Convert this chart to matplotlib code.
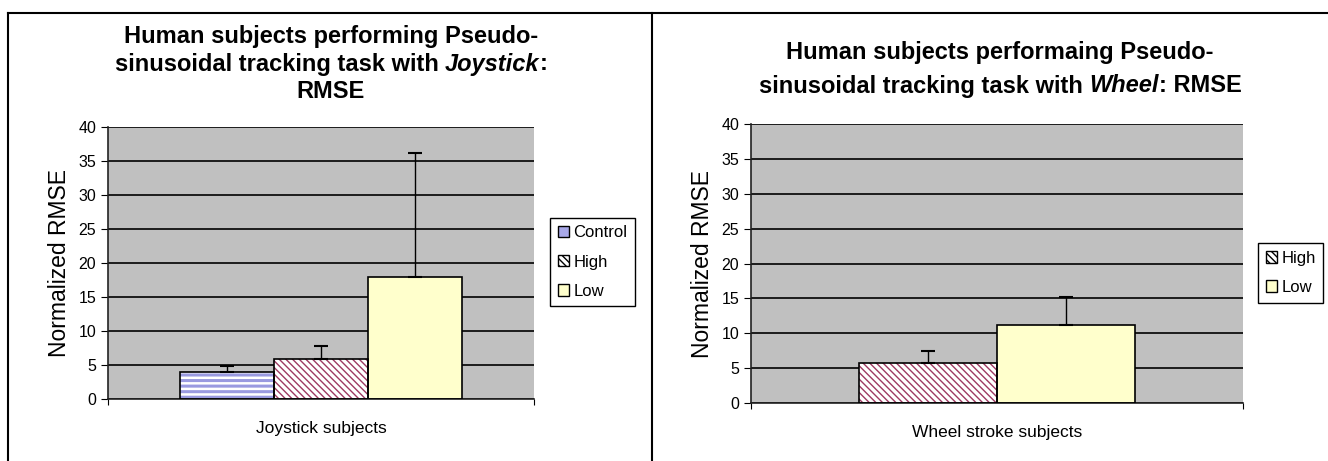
import numpy as np
import matplotlib
matplotlib.use("Agg")
import matplotlib.pyplot as plt
from matplotlib.patches import Patch
from matplotlib.lines import Line2D

plt.rcParams['font.family'] = ['Liberation Sans', 'DejaVu Sans']

# data
joy_series = ['Control', 'High', 'Low']
joy_values = [4.0, 5.9, 18.0]
joy_errors = [0.8, 1.9, 18.2]
joy_category = 'Joystick subjects'

wheel_series = ['High', 'Low']
wheel_values = [5.8, 11.2]
wheel_errors = [1.7, 4.0]
wheel_category = 'Wheel stroke subjects'

yticks = [0, 5, 10, 15, 20, 25, 30, 35, 40]

styles = {
    'Control': dict(face='white', hatch='---', hcol='#9a9ae0', hlw=2.2, legface='#a8a8e8'),
    'High': dict(face='white', hatch='\\\\\\\\\\', hcol='#9e3a62', hlw=1.0, legface='white'),
    'Low': dict(face='#ffffcc', hatch=None, hcol='#ffffcc', hlw=1.0, legface='#ffffcc'),
}

W, H = 1328, 461
fig = plt.figure(figsize=(W / 100, H / 100), dpi=100)


def px_axes(x0, y0, x1, y1):
    return fig.add_axes([x0 / W, 1 - y1 / H, (x1 - x0) / W, (y1 - y0) / H])


def draw_panel(ax, names, values, errors, category, group_width):
    n = len(names)
    bw = group_width / n
    xs = -group_width / 2 + bw * (np.arange(n) + 0.5)
    ax.set_facecolor('#c0c0c0')
    ax.set_axisbelow(True)
    ax.yaxis.grid(True, color='black', linewidth=1.2)
    for x, name, v, e in zip(xs, names, values, errors):
        st = styles[name]
        with plt.rc_context({'hatch.linewidth': st['hlw']}):
            ax.bar(x, v, bw, color=st['face'], hatch=st['hatch'], edgecolor=st['hcol'],
                   linewidth=0, zorder=2)
        ax.bar(x, v, bw, fill=False, edgecolor='black', linewidth=1.2, zorder=3)
        ax.errorbar(x, v, yerr=[[0], [e]], fmt='none', ecolor='black', elinewidth=1,
                    capsize=5, capthick=1.5, zorder=4)
    ax.set_xlim(-0.5, 0.5)
    ax.set_ylim(0, 40)
    ax.set_yticks(yticks)
    ax.set_xticks([-0.5, 0.5])
    ax.set_xticklabels([])
    ax.tick_params(axis='x', length=4, direction='out')
    ax.tick_params(axis='y', length=5, direction='out', labelsize=11.5)
    for s in ['top', 'right']:
        ax.spines[s].set_visible(False)
    for s in ['left', 'bottom']:
        ax.spines[s].set_color('#222222')
        ax.spines[s].set_linewidth(1.2)
    ax.set_xlabel(category, fontsize=12.5, labelpad=8)
    ax.set_ylabel('Normalized RMSE', fontsize=16.5, labelpad=5)


def legend_handles(names):
    hs = []
    for name in names:
        st = styles[name]
        hatch = st['hatch'] if name == 'High' else None
        hs.append(Patch(facecolor=st['legface'], edgecolor='black', hatch=hatch,
                        linewidth=1, label=name))
    return hs


def rich_line(parts, xc, yc, size=17):
    r = fig.canvas.get_renderer()
    texts = []
    total = 0
    for s, style in parts:
        t = fig.text(0, 0, s, fontsize=size, fontweight='bold', fontstyle=style,
                     va='center', ha='left')
        w = t.get_window_extent(renderer=r).width
        texts.append((t, w))
        total += w
    x = xc - total / 2
    for t, w in texts:
        t.set_position((x / W, 1 - yc / H))
        x += w


# left panel
ax1 = px_axes(108, 127, 534, 399)
draw_panel(ax1, joy_series, joy_values, joy_errors, joy_category, 0.66)
fig.legend(handles=legend_handles(joy_series), loc='center left',
           bbox_to_anchor=(550 / W, 1 - 262 / H), fontsize=12, frameon=True,
           fancybox=False, edgecolor='black', handlelength=0.7, handleheight=0.7,
           handletextpad=0.25, labelspacing=0.85, borderpad=0.45, borderaxespad=0,
           framealpha=1)

rich_line([('Human subjects performing Pseudo-', 'normal')], 331, 37)
rich_line([('sinusoidal tracking task with ', 'normal'), ('Joystick', 'italic'),
           (':', 'normal')], 331, 64)
rich_line([('RMSE', 'normal')], 331, 91)

# right panel
ax2 = px_axes(751, 124, 1243, 403)
draw_panel(ax2, wheel_series, wheel_values, wheel_errors, wheel_category, 0.56)
fig.legend(handles=legend_handles(wheel_series), loc='center left',
           bbox_to_anchor=(1258 / W, 1 - 273 / H), fontsize=12, frameon=True,
           fancybox=False, edgecolor='black', handlelength=0.7, handleheight=0.7,
           handletextpad=0.25, labelspacing=0.85, borderpad=0.45, borderaxespad=0,
           framealpha=1)

rich_line([('Human subjects performaing Pseudo-', 'normal')], 1000, 53)
rich_line([('sinusoidal tracking task with ', 'normal'), ('Wheel', 'italic'),
           (': RMSE', 'normal')], 1000, 86)

# panel frame lines
fig.add_artist(Line2D([8 / W, 8 / W], [0, 1 - 13 / H], color='black', lw=1.5))
fig.add_artist(Line2D([8 / W, 1], [1 - 13 / H, 1 - 13 / H], color='black', lw=1.5))
fig.add_artist(Line2D([652 / W, 652 / W], [0, 1 - 13 / H], color='black', lw=1.5))

fig.savefig('out.png', dpi=100)
